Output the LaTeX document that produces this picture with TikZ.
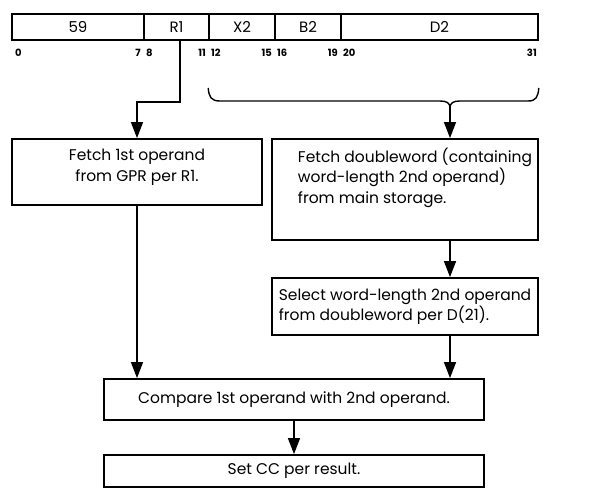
\documentclass[tikz,border=0pt]{standalone}
\usepackage{fontspec}
\setmainfont{Poppins}
\usetikzlibrary{arrows.meta}
\begin{document}
\begin{tikzpicture}[x=1pt,y=-1pt,
  field/.style={draw, line width=1.6pt, minimum height=26pt, inner sep=0pt,
    font=\fontsize{15}{16}\selectfont},
  stepbox/.style={draw, line width=1.8pt, inner sep=0pt,
    font=\fontsize{15.5}{20.5}\selectfont},
  bitno/.style={font=\bfseries\fontsize{10}{11}\selectfont, inner sep=0pt},
  flow/.style={line width=1.4pt, -{Triangle[length=16pt,width=12pt]}},
  wire/.style={line width=1.4pt}]
\useasboundingbox (0,0) rectangle (608,489);

% instruction word fields
\node[field, minimum width=132pt] (f59) at (78,27)    {59};
\node[field, minimum width=65pt]  (fR1) at (176.5,27) {R1};
\node[field, minimum width=66pt]  (fX2) at (242,27)   {X2};
\node[field, minimum width=66pt]  (fB2) at (308,27)   {B2};
\node[field, minimum width=197pt] (fD2) at (439.5,27) {D2};

% bit positions
\node[bitno, anchor=west] (b0)  at (15,53)  {0};
\node[bitno, anchor=east] (b7)  at (141,53) {7};
\node[bitno, anchor=west] (b8)  at (146,53) {8};
\node[bitno, anchor=east] (b11) at (206,53) {11};
\node[bitno, anchor=west] (b12) at (211,53) {12};
\node[bitno, anchor=east] (b15) at (272,53) {15};
\node[bitno, anchor=west] (b16) at (277,53) {16};
\node[bitno, anchor=east] (b19) at (338,53) {19};
\node[bitno, anchor=west] (b20) at (343,53) {20};
\node[bitno, anchor=east] (b31) at (537,53) {31};

% processing steps
\node[stepbox, minimum width=250pt, minimum height=66pt]
  (fetchA) at (137,172)
  {\begin{tabular}{@{}c@{}}Fetch 1st operand\\from GPR per R1.\\[10pt]\end{tabular}};
\node[stepbox, minimum width=266pt, minimum height=101pt]
  (fetchB) at (405,189.5)
  {\begin{tabular}{@{\hspace{20pt}}l@{}}Fetch doubleword (containing\\word-length 2nd operand)\\from main storage.\\[22pt]\end{tabular}};
\node[stepbox, minimum width=266pt, minimum height=57pt]
  (select) at (405,306.5)
  {\begin{tabular}{@{}l@{}}Select word-length 2nd operand\\from doubleword per D(21).\end{tabular}};
\node[stepbox, minimum width=380pt, minimum height=41pt]
  (compare) at (294,399.5) {Compare 1st operand with 2nd operand.};
\node[stepbox, minimum width=380pt, minimum height=32pt]
  (setcc) at (294,471) {Set CC per result.};

% routing points
\coordinate (bend) at (137,102);
\coordinate (tip) at (450,108);

% R1 field feeds the first fetch
\draw[flow] ([xshift=3.5pt]fR1.south) |- (bend) -- (bend |- fetchA.north);

% brace under bits 12-31
\draw[wire] (fX2.south west |- 0,88) .. controls (209,97) and (211,101) .. (220,101)
  -- (440,101) .. controls (447,101) and (450,103) .. (tip)
  .. controls (450,103) and (453,101) .. (460,101) -- (528,101)
  .. controls (536,101) and (538,97) .. (fD2.south east |- 0,88);
\draw[flow] (tip) -- (tip |- fetchB.north);

\draw[flow] (tip |- fetchB.south) -- (tip |- select.north);
\draw[flow] (tip |- select.south) -- (tip |- compare.north);
\draw[flow] (bend |- fetchA.south) -- (bend |- compare.north);
\draw[flow] (compare.south) -- (setcc.north);
\end{tikzpicture}
\end{document}
